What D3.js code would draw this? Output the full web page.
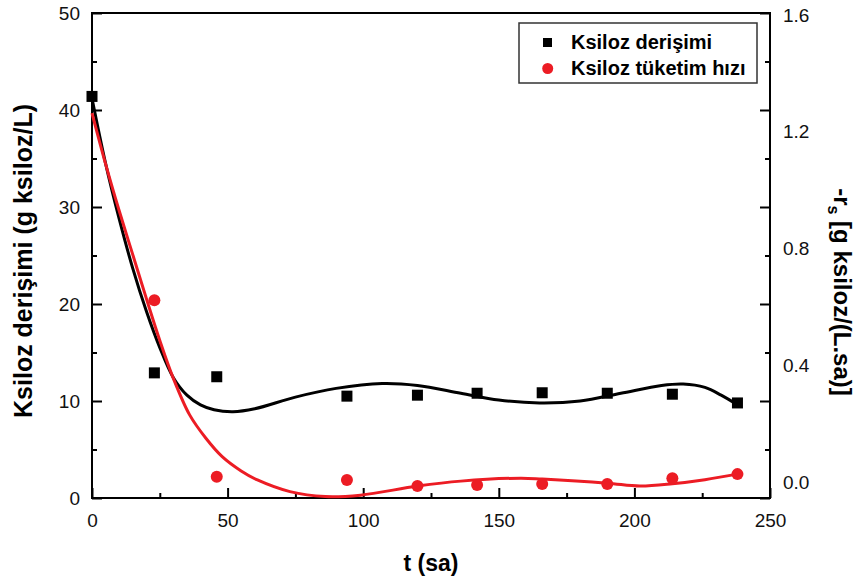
<!DOCTYPE html>
<html>
<head>
<meta charset="utf-8">
<script src="https://cdn.jsdelivr.net/npm/d3@7"></script>
<style>
  body { margin: 0; background: #fff; }
  svg { font-family: "Liberation Sans", Arial, sans-serif; }
</style>
</head>
<body>
<div id="chart"></div>
<script>
// measured points (no red marker is visible at t = 0)
var tHours = [0, 23, 46, 94, 120, 142, 166, 190, 214, 238];
var ksilozConc = [41.4, 12.9, 12.5, 10.5, 10.6, 10.8, 10.85, 10.8, 10.7, 9.8];
var tuketimHizi = [null, 0.623, 0.018, 0.007, -0.014, -0.010, -0.007, -0.007, 0.013, 0.027];

// fitted curves
var fitT_black = [0, 5, 10, 15, 20, 25, 30, 35, 40, 45, 52, 60, 75, 90, 107, 120, 136, 150, 165, 180, 195, 210, 218, 226, 232, 238];
var fitBlack = [41.2, 34.5, 28.8, 23.7, 19.3, 15.5, 12.4, 10.6, 9.6, 9.1, 8.9, 9.2, 10.4, 11.3, 11.8, 11.6, 10.8, 10.1, 9.8, 10.0, 10.8, 11.6, 11.75, 11.4, 10.6, 9.6];
var fitT_red = [0, 5, 10, 15, 20, 25, 30, 36, 42, 48, 55, 61, 73, 86, 99, 120, 136, 158, 166, 190, 202, 214, 226, 238];
var fitRed = [1.264, 1.09, 0.93, 0.78, 0.63, 0.485, 0.355, 0.23, 0.15, 0.087, 0.038, 0.007, -0.033, -0.05, -0.045, -0.014, 0.003, 0.013, 0.01, -0.004, -0.014, -0.006, 0.008, 0.027];

var leftTicks = [0, 10, 20, 30, 40, 50];
var leftMinor = [5, 15, 25, 35, 45];
var rightTicks = [0, 0.4, 0.8, 1.2, 1.6];
var xTicks = [0, 50, 100, 150, 200, 250];
var xMinor = [25, 75, 125, 175, 225];
var legendNames = ["Ksiloz derişimi", "Ksiloz tüketim hızı"];

var width = 857, height = 585;
var pLeft = 92, pRight = 770, pTop = 13, pBottom = 498;
var red = "#ec1c24";

var svg = d3.select("#chart").append("svg")
    .attr("width", width)
    .attr("height", height);

var x = d3.scaleLinear().domain([0, 250]).range([pLeft, pRight]);
var yL = d3.scaleLinear().domain([0, 50]).range([pBottom, pTop]);
var yR = d3.scaleLinear().domain([0, 1.6]).range([482, 15]);

// left axis
svg.append("g")
    .attr("transform", "translate(" + pLeft + ",0)")
    .call(d3.axisLeft(yL).tickValues(leftTicks).tickSizeInner(-10).tickSizeOuter(0).tickPadding(12))
    .call(g => g.select(".domain").remove())
    .call(g => g.selectAll("line").attr("stroke-width", 2))
    .call(g => g.selectAll("text").attr("font-size", 19).attr("fill", "#111"));
svg.append("g")
    .attr("transform", "translate(" + pLeft + ",0)")
    .call(d3.axisLeft(yL).tickValues(leftMinor).tickSize(-5).tickFormat(""))
    .call(g => g.select(".domain").remove())
    .call(g => g.selectAll("line").attr("stroke-width", 2));

// right side: ticks mirror the left axis, labels on their own scale
svg.append("g")
    .attr("transform", "translate(" + pRight + ",0)")
    .call(d3.axisRight(yL).tickValues(leftTicks).tickSize(-10).tickFormat(""))
    .call(g => g.select(".domain").remove())
    .call(g => g.selectAll("line").attr("stroke-width", 2));
svg.append("g")
    .attr("transform", "translate(" + pRight + ",0)")
    .call(d3.axisRight(yL).tickValues(leftMinor).tickSize(-5).tickFormat(""))
    .call(g => g.select(".domain").remove())
    .call(g => g.selectAll("line").attr("stroke-width", 2));
svg.append("g")
    .attr("transform", "translate(" + pRight + ",0)")
    .call(d3.axisRight(yR).tickValues(rightTicks).tickSize(0).tickPadding(13).tickFormat(d3.format(".1f")))
    .call(g => g.select(".domain").remove())
    .call(g => g.selectAll("text").attr("font-size", 19).attr("fill", "#111"));

// bottom axis
svg.append("g")
    .attr("transform", "translate(0," + pBottom + ")")
    .call(d3.axisBottom(x).tickValues(xTicks).tickSizeInner(-10).tickSizeOuter(0).tickPadding(16))
    .call(g => g.select(".domain").remove())
    .call(g => g.selectAll("line").attr("stroke-width", 2))
    .call(g => g.selectAll("text").attr("font-size", 19).attr("fill", "#111"));
svg.append("g")
    .attr("transform", "translate(0," + pBottom + ")")
    .call(d3.axisBottom(x).tickValues(xMinor).tickSize(-5).tickFormat(""))
    .call(g => g.select(".domain").remove())
    .call(g => g.selectAll("line").attr("stroke-width", 2));

// frame
svg.append("rect")
    .attr("x", pLeft).attr("y", pTop)
    .attr("width", pRight - pLeft).attr("height", pBottom - pTop)
    .attr("fill", "none").attr("stroke", "#000").attr("stroke-width", 2);

// fitted lines
var lineB = d3.line().x(d => x(d[0])).y(d => yL(d[1])).curve(d3.curveCatmullRom);
var lineR = d3.line().x(d => x(d[0])).y(d => yR(d[1])).curve(d3.curveCatmullRom);

svg.append("path")
    .datum(d3.zip(fitT_black, fitBlack))
    .attr("d", lineB)
    .attr("fill", "none").attr("stroke", "#000").attr("stroke-width", 3);
svg.append("path")
    .datum(d3.zip(fitT_red, fitRed))
    .attr("d", lineR)
    .attr("fill", "none").attr("stroke", red).attr("stroke-width", 3);

// points
svg.append("g").selectAll("rect")
    .data(d3.zip(tHours, ksilozConc))
    .join("rect")
    .attr("x", d => x(d[0]) - 5.5)
    .attr("y", d => yL(d[1]) - 5.5)
    .attr("width", 11).attr("height", 11)
    .attr("fill", "#000");
svg.append("g").selectAll("circle")
    .data(d3.zip(tHours, tuketimHizi).filter(d => d[1] != null))
    .join("circle")
    .attr("cx", d => x(d[0]))
    .attr("cy", d => yR(d[1]))
    .attr("r", 6)
    .attr("fill", red);

// axis titles
svg.append("text")
    .attr("transform", "translate(32,261) rotate(-90)")
    .attr("text-anchor", "middle")
    .attr("font-size", 25).attr("font-weight", "bold")
    .text("Ksiloz derişimi (g ksiloz/L)");

svg.append("text")
    .attr("x", 431).attr("y", 571)
    .attr("text-anchor", "middle")
    .attr("font-size", 23).attr("font-weight", "bold")
    .text("t (sa)");

var rt = svg.append("text")
    .attr("transform", "translate(834,292) rotate(90)")
    .attr("text-anchor", "middle")
    .attr("font-size", 24).attr("font-weight", "bold");
rt.append("tspan").text("-r");
rt.append("tspan").attr("font-size", 16).attr("dy", 6).text("s");
rt.append("tspan").attr("dy", -6).text(" [g ksiloz/(L.sa)]");

// legend
var lg = svg.append("g");
lg.append("rect")
    .attr("x", 519).attr("y", 23).attr("width", 238).attr("height", 60)
    .attr("fill", "#fff").attr("stroke", "#333").attr("stroke-width", 1.5);
lg.append("rect")
    .attr("x", 543).attr("y", 38).attr("width", 9).attr("height", 9)
    .attr("fill", "#000");
lg.append("circle")
    .attr("cx", 547.7).attr("cy", 68.5).attr("r", 5.5)
    .attr("fill", red);
lg.selectAll("text.lab")
    .data(legendNames)
    .join("text")
    .attr("class", "lab")
    .attr("x", 571)
    .attr("y", (d, i) => 49 + i * 26)
    .attr("font-size", 20).attr("font-weight", "bold")
    .text(d => d);
</script>
</body>
</html>
